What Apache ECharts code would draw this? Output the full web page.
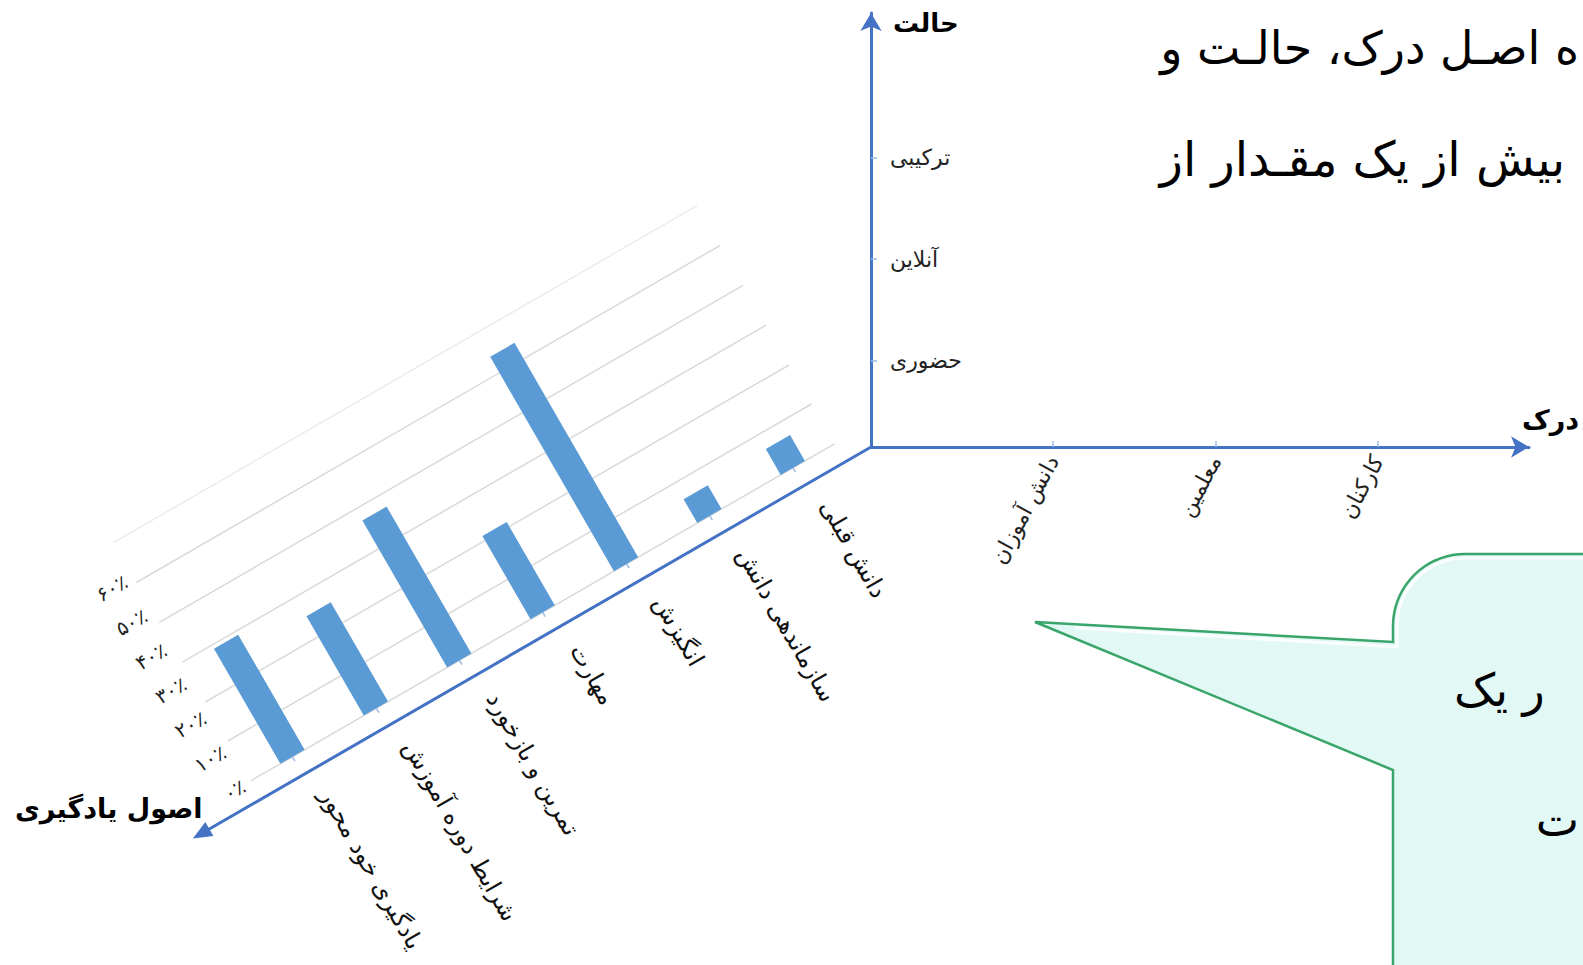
<!DOCTYPE html>
<html><head><meta charset="utf-8">
<script src="https://cdn.jsdelivr.net/npm/echarts@6/dist/echarts.min.js"></script>
<style>
html,body{margin:0;padding:0;background:#fff;overflow:hidden;width:1583px;height:965px;}
#main{position:absolute;left:0;top:0;width:1583px;height:965px;}
#bars{position:absolute;left:61px;top:127px;width:830px;height:600px;transform-origin:810px 320px;transform:rotate(-30deg);}
</style></head><body>
<div id="main"></div><div id="bars"></div>
<script>
// ---- data ----
const principles = ['یادگیری خود محور','شرایط دوره آموزش','تمرین و بازخورد','مهارت','انگیزش','سازماندهی دانش','دانش قبلی'];
const shares = [29, 25, 37, 21, 54, 6, 6.5];
const shareMin = 0, shareMax = 60, shareStep = 10;
const shareTickLabels = [0, 10, 20, 30, 40, 50, 60];
const perceptionLabels = ['دانش آموزان','معلمین','کارکنان'];
const perceptionPos = [1, 2, 3];
const modeLabels = ['حضوری','آنلاین','ترکیبی'];
const modePos = [1, 2, 3];
const titleDiag = 'اصول یادگیری';
const titleMode = 'حالت';
const titlePerception = 'درک';
const textLine1 = 'ه اصـل درک، حالـت و';
const textLine2 = 'بیش از یک مقـدار از';
const bubbleLine1 = 'ر یک';
const bubbleLine2 = 'ت';

const FONT = 'DejaVu Sans';
const AXIS_BLUE = '#4472c4';
const TICK_BLUE = '#9dbbe6';
const faDigits = '۰۱۲۳۴۵۶۷۸۹';
const toFa = n => String(n).replace(/[0-9]/g, d => faDigits[+d]);

// ---- rotated bar chart ----
const B_W = 830, B_H = 600, CX = 810, AY = 320;
const barChart = echarts.init(document.getElementById('bars'), null, {renderer: 'svg'});
barChart.setOption({
  animation: false,
  textStyle: {fontFamily: FONT},
  grid: {left: 106, right: 50, top: 24, bottom: B_H - 299, containLabel: false},
  xAxis: {
    type: 'category', data: principles, offset: 21,
    axisLine: {show: false},
    axisTick: {show: true, alignWithLabel: true, length: 5, lineStyle: {color: TICK_BLUE, width: 1.5}},
    axisLabel: {rotate: -90, margin: 25, fontSize: 24, color: '#111', fontFamily: FONT, interval: 0, verticalAlign: 'bottom'}
  },
  yAxis: [{
    type: 'value', min: shareMin, max: shareMax, interval: shareStep,
    axisLine: {show: false}, axisTick: {show: false},
    splitLine: {lineStyle: {color: ['#d9d9d9', '#d9d9d9', '#d9d9d9', '#d9d9d9', '#d9d9d9', '#d9d9d9', '#ececec'], width: 1.5}},
    axisLabel: {show: false}
  }, {
    // label axis: the reference prints its percent labels on a tighter spacing than its gridlines
    type: 'value', min: shareMin, max: shareMax * 274.8 / 236, position: 'left',
    axisLine: {show: false}, axisTick: {show: false}, splitLine: {show: false},
    axisLabel: {customValues: shareTickLabels, fontSize: 20, color: '#222', margin: 8, formatter: v => toFa(v) + '٪'}
  }],
  series: [{type: 'bar', yAxisIndex: 0, data: shares, barWidth: 28, itemStyle: {color: '#5b9bd5'}}],
  graphic: {elements: [
    {type: 'line', shape: {x1: CX - 783 + 14, y1: AY, x2: CX, y2: AY}, style: {stroke: AXIS_BLUE, lineWidth: 3}, z: 10},
    {type: 'polygon', shape: {points: [[CX - 783, AY], [CX - 783 + 19, AY - 8], [CX - 783 + 19, AY + 8]]}, style: {fill: AXIS_BLUE}, z: 10}
  ]}
});

// ---- callout outline (decoration) ----
function arcPts(cx, cy, R) {
  const pts = [];
  for (let i = 0; i <= 18; i++) {
    const t = Math.PI + i / 18 * Math.PI / 2;
    pts.push([cx + R * Math.cos(t), cy + R * Math.sin(t)]);
  }
  return pts;
}
const BR = 72, BX = 1393, BY = 554;
const bubbleOutline = [[1035, 622], [BX, 642]].concat(arcPts(BX + BR, BY + BR, BR), [[1600, BY], [1600, 990], [BX, 990], [BX, 770]]);
const bubbleShine = [[1075, 628], [BX + 4, 647]].concat(arcPts(BX + BR, BY + BR, BR - 4), [[1600, BY + 4]]);

// ---- 2D axes, text and callout ----
const main = echarts.init(document.getElementById('main'), null, {renderer: 'svg'});
main.setOption({
  animation: false,
  textStyle: {fontFamily: FONT},
  grid: {left: 871, right: 54, top: 13, bottom: 518, containLabel: false},
  xAxis: {
    type: 'value', min: -0.12, max: 3.93,
    axisLine: {show: true, onZero: false, lineStyle: {color: AXIS_BLUE, width: 3}, symbol: ['none', 'arrow'], symbolSize: [16, 18]},
    axisTick: {show: true, inside: true, length: 6, customValues: perceptionPos, lineStyle: {color: TICK_BLUE, width: 1.5}},
    axisLabel: {customValues: perceptionPos, formatter: v => perceptionLabels[perceptionPos.indexOf(v)], rotate: 62, margin: 10, fontSize: 22, color: '#222'},
    splitLine: {show: false}
  },
  yAxis: {
    type: 'value', min: 0.15, max: 4.426,
    axisLine: {show: true, onZero: false, lineStyle: {color: AXIS_BLUE, width: 3}, symbol: ['none', 'arrow'], symbolSize: [16, 18]},
    axisTick: {show: true, inside: true, length: 6, customValues: modePos, lineStyle: {color: TICK_BLUE, width: 1.5}},
    axisLabel: {inside: true, customValues: modePos, formatter: v => modeLabels[modePos.indexOf(v)], margin: 19, fontSize: 22, color: '#222'},
    splitLine: {show: false},
    name: titleMode, nameLocation: 'end', nameGap: -10,
    nameTextStyle: {fontSize: 26, fontWeight: 'bold', color: '#000', align: 'left', verticalAlign: 'middle', padding: [0, 0, 0, 22]}
  },
  series: [],
  graphic: {elements: [
    {type: 'text', style: {text: titlePerception, x: 1522, y: 419, textAlign: 'left', textVerticalAlign: 'middle', fontSize: 27, fontWeight: 'bold', fontFamily: FONT, fill: '#000'}},
    {type: 'text', style: {text: titleDiag, x: 15, y: 808, textAlign: 'left', textVerticalAlign: 'middle', fontSize: 27, fontWeight: 'bold', fontFamily: FONT, fill: '#000'}},
    {type: 'text', style: {text: textLine1, x: 1579, y: 48, textAlign: 'right', textVerticalAlign: 'middle', fontSize: 46, fontFamily: FONT, fill: '#000'}},
    {type: 'text', style: {text: textLine2, x: 1565, y: 159, textAlign: 'right', textVerticalAlign: 'middle', fontSize: 48, fontFamily: FONT, fill: '#000'}},
    {type: 'polygon', shape: {points: bubbleOutline}, style: {fill: '#e2f8f5', stroke: '#3aa56b', lineWidth: 2.5}},
    {type: 'polyline', shape: {points: bubbleShine}, style: {stroke: 'rgba(255,255,255,0.85)', lineWidth: 3, fill: null}},
    {type: 'text', style: {text: bubbleLine1, x: 1454, y: 690, textAlign: 'left', textVerticalAlign: 'middle', fontSize: 46, fontFamily: FONT, fill: '#000'}},
    {type: 'text', style: {text: bubbleLine2, x: 1579, y: 820, textAlign: 'right', textVerticalAlign: 'middle', fontSize: 46, fontFamily: FONT, fill: '#000'}}
  ]}
});
</script>
</body></html>
